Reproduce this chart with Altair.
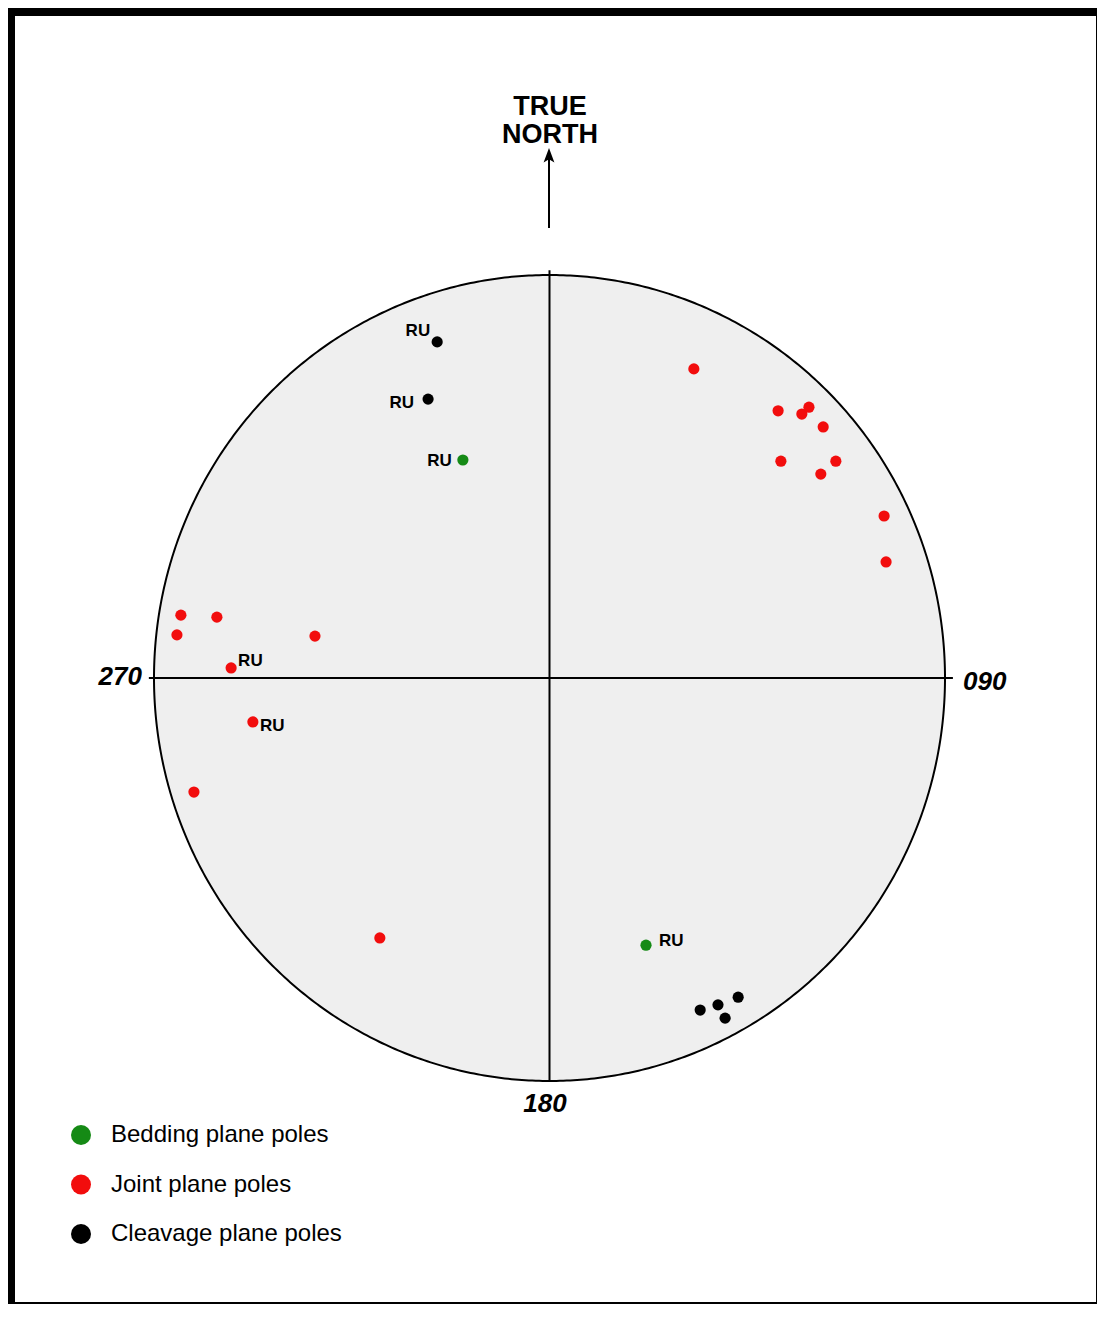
import altair as alt
import numpy as np
import pandas as pd

# ---------------- data (normalised stereonet coordinates: east, north) ----------------
categories = ["Bedding plane poles", "Joint plane poles", "Cleavage plane poles"]
colors = ["#158a15", "#f20d0d", "#000000"]

bedding_x = [-0.219, 0.244]
bedding_y = [0.541, -0.663]

joint_x = [0.365, 0.578, 0.638, 0.656, 0.692, 0.585, 0.724, 0.686, 0.846, 0.851,
           -0.932, -0.841, -0.942, -0.593, -0.805, -0.750, -0.899, -0.429]
joint_y = [0.767, 0.663, 0.655, 0.672, 0.623, 0.538, 0.538, 0.506, 0.402, 0.288,
           0.156, 0.151, 0.107, 0.104, 0.025, -0.109, -0.283, -0.645]

cleavage_x = [-0.284, -0.307, 0.381, 0.426, 0.477, 0.444]
cleavage_y = [0.834, 0.692, -0.824, -0.811, -0.792, -0.844]

# RU-labelled poles: (series, index in series)
ru_points = [("Cleavage plane poles", 0), ("Cleavage plane poles", 1),
             ("Bedding plane poles", 0), ("Bedding plane poles", 1),
             ("Joint plane poles", 14), ("Joint plane poles", 15)]
ru_text = "RU"

direction_labels = ["270", "090", "180"]
north_label = ["TRUE", "NORTH"]

# ---------------- layout / style (not data) ----------------
W, H = 1089, 1296
FONT = "Liberation Sans"
# label placement per RU label: (align, dx, dy)
ru_style = [("right", -7, -11), ("right", -14, 4), ("right", -11, 1),
            ("left", 13, -4), ("left", 7, -7), ("left", 7, 4)]

xs = alt.Scale(domain=[-1, 1], range=[146, 937], nice=False, zero=False)
ys = alt.Scale(domain=[-1, 1], range=[1073, 267], nice=False, zero=False)

series = {
    "Bedding plane poles": (bedding_x, bedding_y),
    "Joint plane poles": (joint_x, joint_y),
    "Cleavage plane poles": (cleavage_x, cleavage_y),
}
rows = []
for cat in categories:
    sx, sy = series[cat]
    for i, (a, b) in enumerate(zip(sx, sy)):
        rows.append({"type": cat, "x": a, "y": b, "i": i})
pts = pd.DataFrame(rows)

one = pd.DataFrame({"a": [0]})

# primitive circle geometry
t = np.linspace(0, np.pi, 721)
cx = -np.cos(t)
fill_df = pd.DataFrame({"x": cx, "y": np.sqrt(np.clip(1 - cx**2, 0, None)),
                        "y2": -np.sqrt(np.clip(1 - cx**2, 0, None))})
tt = np.linspace(0, 2 * np.pi, 721)
outline_df = pd.DataFrame({"x": np.cos(tt), "y": np.sin(tt), "o": np.arange(len(tt))})

X = lambda f="x": alt.X(f"{f}:Q", scale=xs, axis=None)
Y = lambda f="y": alt.Y(f"{f}:Q", scale=ys, axis=None)

frame_outer = alt.Chart(one).mark_rect(color="black").encode(
    x=alt.value(0), x2=alt.value(W), y=alt.value(0), y2=alt.value(H))
frame_inner = alt.Chart(one).mark_rect(color="white").encode(
    x=alt.value(7), x2=alt.value(W - 1), y=alt.value(8), y2=alt.value(H - 2))

fill = alt.Chart(fill_df).mark_area(color="#efefef").encode(x=X(), y=Y(), y2="y2:Q")
outline = alt.Chart(outline_df).mark_line(color="black", strokeWidth=2).encode(
    x=X(), y=Y(), order="o:Q")

cross_h = alt.Chart(pd.DataFrame({"x1": [-1.013], "x2": [1.02], "y": [0.0]})).mark_rule(
    color="black", strokeWidth=2).encode(x=X("x1"), x2="x2:Q", y=Y())
cross_v = alt.Chart(pd.DataFrame({"x": [0.0], "y1": [-1.0], "y2": [1.012]})).mark_rule(
    color="black", strokeWidth=2).encode(x=X(), y=Y("y1"), y2="y2:Q")

arrow_shaft = alt.Chart(one).mark_rule(color="black", strokeWidth=2).encode(
    x=alt.value(541), y=alt.value(147), y2=alt.value(220))
arrow_head = alt.Chart(one).mark_point(
    shape="M0,-1L0.6,0.6L0,0.25L-0.6,0.6Z", filled=True, color="black", opacity=1,
    size=324).encode(x=alt.value(541), y=alt.value(149))

north1 = alt.Chart(one).mark_text(text=north_label[0], font=FONT, fontSize=27, fontWeight="bold",
                                  align="center", baseline="alphabetic", color="black").encode(
    x=alt.value(542), y=alt.value(107))
north2 = alt.Chart(one).mark_text(text=north_label[1], font=FONT, fontSize=27, fontWeight="bold",
                                  align="center", baseline="alphabetic", color="black").encode(
    x=alt.value(542), y=alt.value(135))

dir_pos = [("right", 134, 677), ("left", 955, 682), ("center", 537, 1104)]
dir_layers = []
for lab, (al, px, py) in zip(direction_labels, dir_pos):
    dir_layers.append(alt.Chart(one).mark_text(
        text=lab, font=FONT, fontSize=26, fontWeight="bold", fontStyle="italic",
        align=al, baseline="alphabetic", color="black").encode(x=alt.value(px), y=alt.value(py)))

points = alt.Chart(pts).mark_circle(size=125, opacity=1).encode(
    x=X(), y=Y(),
    color=alt.Color("type:N", scale=alt.Scale(domain=categories, range=colors),
                    legend=alt.Legend(orient="none", legendX=61, legendY=1115, title=None,
                                      symbolType="circle", symbolSize=400,
                                      symbolStrokeWidth=0, symbolOpacity=1,
                                      labelFontSize=24, labelFont=FONT, labelColor="black",
                                      rowPadding=25.5, labelOffset=18, padding=0,
                                      labelLimit=0)))

ru_layers = []
for (cat, idx), (al, dx, dy) in zip(ru_points, ru_style):
    sx, sy = series[cat]
    d = pd.DataFrame({"x": [sx[idx]], "y": [sy[idx]], "t": [ru_text]})
    ru_layers.append(alt.Chart(d).mark_text(
        font=FONT, fontSize=17, fontWeight="bold", align=al, baseline="middle",
        dx=dx, dy=dy, color="black").encode(x=X(), y=Y(), text="t:N"))

chart = alt.layer(
    frame_outer, frame_inner, fill, cross_h, cross_v, outline,
    arrow_shaft, arrow_head, north1, north2, *dir_layers, points, *ru_layers
).properties(
    width=W, height=H, autosize=alt.AutoSizeParams(type="none"), padding=0,
    background="white"
).configure_view(stroke=None)

chart.save("out.html", embed_options={"renderer": "svg", "actions": False})
